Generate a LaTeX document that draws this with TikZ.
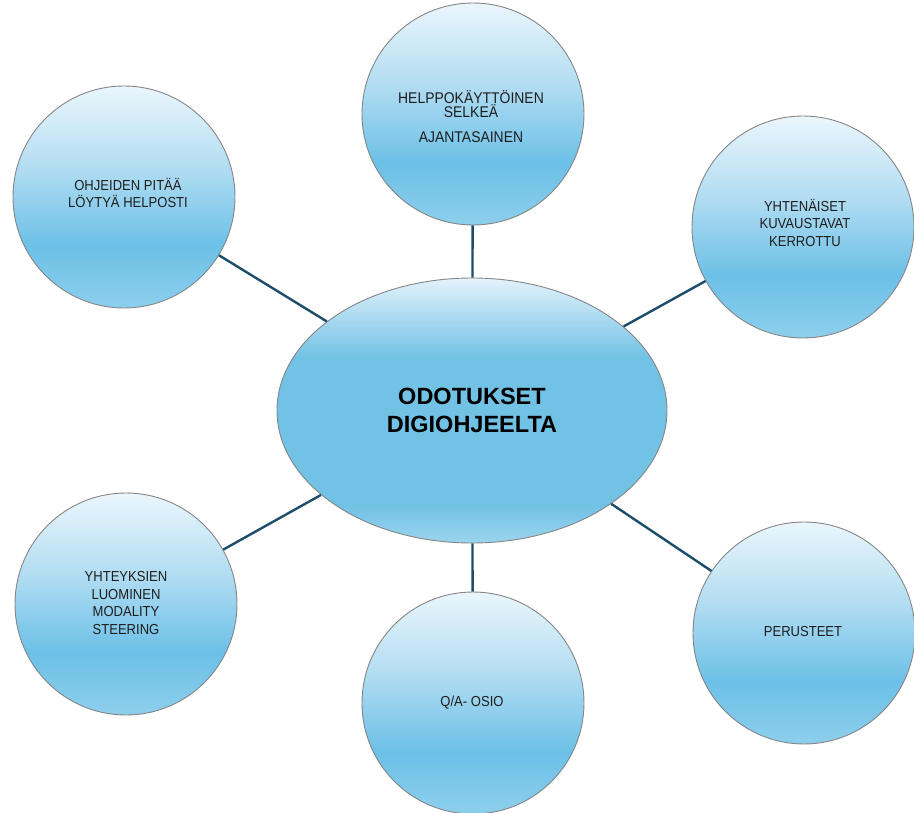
\documentclass[tikz,border=0pt]{standalone}
\usepackage{fontspec}
\setmainfont{Liberation Sans}
\newfontfamily\narrowsans[FakeStretch=0.9]{Liberation Sans}
\usetikzlibrary{shapes.geometric}
\definecolor{cA}{HTML}{EAF6FC}
\definecolor{cB}{HTML}{B3DDF2}
\definecolor{cC}{HTML}{6CC0E7}
\definecolor{cD}{HTML}{8DCFEC}
\definecolor{eA}{HTML}{E3F2FB}
\definecolor{eB}{HTML}{72C2E6}
\definecolor{eD}{HTML}{9BD4EE}
\definecolor{linkcol}{HTML}{1D4D6A}
\definecolor{txtcol}{HTML}{1E1E1E}
\definecolor{rimcol}{HTML}{858585}
\pgfdeclareverticalshading{bubbleshade}{100bp}{color(0bp)=(cD); color(25bp)=(cD); color(39bp)=(cC); color(57bp)=(cB); color(75bp)=(cA); color(100bp)=(cA)}
\pgfdeclareverticalshading{centershade}{100bp}{color(0bp)=(eD); color(25bp)=(eD); color(32bp)=(eB); color(60bp)=(eB); color(75bp)=(eA); color(100bp)=(eA)}
\tikzset{
  bubble/.style={circle, minimum size=222pt, inner sep=0pt, draw=rimcol, line width=0.9pt, shading=bubbleshade},
  hub/.style={ellipse, minimum width=390pt, minimum height=265pt, inner sep=0pt, draw=rimcol, line width=0.9pt, shading=centershade},
  btxt/.style={text=txtcol, align=center, font=\narrowsans\fontsize{14.5}{17.5}\selectfont, inner sep=0pt},
  link/.style={draw=linkcol, line width=2.4pt}
}
\begin{document}
\begin{tikzpicture}[x=1pt,y=-1pt]
\path[use as bounding box] (0,0) rectangle (914,813);
\node[hub] (hub) at (472,410.5) {};
\node[text=black, align=center, font=\bfseries\fontsize{23.5}{28}\selectfont, inner sep=0pt] (hubt) at (472,410) {ODOTUKSET\\DIGIOHJEELTA};
\node[bubble] (top) at (473,114) {};
\node[bubble] (tl) at (124,197) {};
\node[bubble] (tr) at (803,227) {};
\node[bubble] (bl) at (126,604) {};
\node[bubble] (bot) at (473,703) {};
\node[bubble] (br) at (804,633) {};
\node[btxt, font=\narrowsans\fontsize{15.5}{14}\selectfont] (topt) at (471,117) {HELPPOKÄYTTÖINEN\\SELKEÄ\\[11pt]AJANTASAINEN};
\node[btxt] (tlt) at (128,193) {OHJEIDEN PITÄÄ\\LÖYTYÄ HELPOSTI};
\node[btxt] (trt) at (805,223) {YHTENÄISET\\KUVAUSTAVAT\\KERROTTU};
\node[btxt] (blt) at (126,603) {YHTEYKSIEN\\LUOMINEN\\MODALITY\\STEERING};
\node[btxt] (bott) at (472,703) {Q/A- OSIO};
\node[btxt] (brt) at (803,632) {PERUSTEET};
\draw[link] (hub) -- (top);
\draw[link] (hub) -- (tl);
\draw[link] (hub) -- (tr);
\draw[link] (hub) -- (bl);
\draw[link] (hub) -- (bot);
\draw[link] (hub) -- (br);
\end{tikzpicture}
\end{document}
